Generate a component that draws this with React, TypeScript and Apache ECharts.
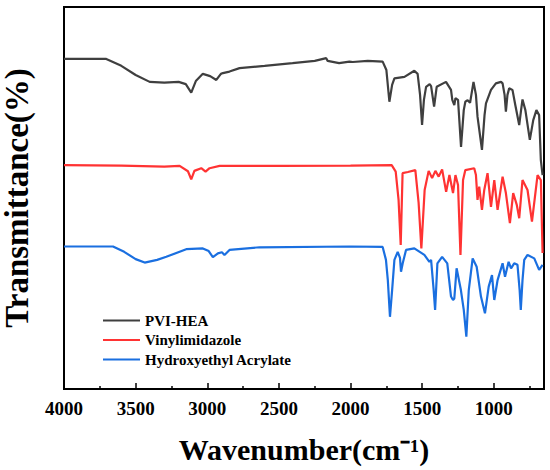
import React, { useEffect, useRef } from "react";
import * as echarts from "echarts";

// Wavenumbers (cm-1) and transmittance (offset, arbitrary units)
const pviWavenumber = [4000, 3705, 3600, 3500, 3402, 3300, 3200, 3150, 3112, 3080, 3031, 2980, 2937, 2905, 2891, 2845, 2775, 2600, 2405, 2250, 2170, 2160, 2080, 2008, 1985, 1880, 1776, 1750, 1729, 1710, 1694, 1624, 1555, 1532, 1515, 1501, 1488, 1473, 1448, 1438, 1417, 1399, 1334, 1299, 1290, 1276, 1268, 1250, 1229, 1210, 1199, 1183, 1166, 1142, 1125, 1114, 1083, 1065, 1055, 1020, 986, 950, 939, 925, 916, 905, 893, 870, 850, 823, 810, 800, 780, 749, 725, 703, 684, 672, 660];
const pviT = [86.4, 86.4, 84.6, 82.2, 80.4, 80.2, 80.4, 79.8, 77.6, 80.6, 82.5, 81.9, 80.9, 82.5, 82.7, 83.1, 84.0, 84.6, 85.3, 85.9, 86.6, 85.9, 85.3, 85.7, 85.6, 85.9, 85.7, 83.5, 75.2, 79.6, 81.3, 81.7, 83.3, 82.5, 77.0, 69.1, 75.7, 79.1, 79.8, 79.3, 73.9, 79.1, 80.4, 78.3, 75.7, 74.3, 76.1, 75.7, 63.4, 73.0, 75.2, 75.6, 74.9, 80.4, 77.0, 71.3, 62.6, 71.7, 74.8, 78.3, 80.0, 80.4, 80.0, 77.0, 72.6, 77.0, 78.7, 78.3, 74.3, 69.1, 73.0, 75.8, 73.0, 65.2, 70.4, 73.0, 71.7, 59.9, 56.0];

const viWavenumber = [4000, 3600, 3300, 3193, 3135, 3112, 3090, 3077, 3042, 3012, 2984, 2914, 2500, 2000, 1713, 1685, 1665, 1650, 1637, 1600, 1548, 1525, 1506, 1483, 1455, 1431, 1408, 1385, 1361, 1333, 1310, 1285, 1268, 1250, 1233, 1215, 1199, 1137, 1125, 1114, 1102, 1083, 1067, 1044, 1020, 997, 974, 939, 916, 888, 865, 840, 823, 800, 765, 734, 695, 672, 660];
const viT = [58.6, 58.5, 58.2, 58.4, 57.0, 54.9, 57.1, 57.3, 57.8, 56.9, 57.8, 58.4, 58.4, 58.5, 58.6, 56.9, 49.5, 37.7, 56.5, 56.8, 57.3, 48.7, 36.8, 52.1, 57.1, 55.2, 57.1, 55.6, 57.5, 51.6, 56.0, 51.3, 56.0, 53.4, 35.1, 54.7, 57.3, 57.8, 56.0, 49.5, 53.0, 46.9, 52.1, 56.5, 47.7, 54.7, 46.9, 55.6, 51.3, 43.4, 51.3, 48.2, 44.7, 54.7, 52.1, 43.8, 56.0, 54.7, 35.6];

const heaWavenumber = [4000, 3658, 3580, 3500, 3437, 3350, 3286, 3147, 3031, 2990, 2961, 2926, 2898, 2880, 2845, 2636, 2008, 1776, 1753, 1740, 1725, 1710, 1694, 1671, 1655, 1648, 1636, 1613, 1555, 1485, 1450, 1438, 1420, 1410, 1394, 1361, 1325, 1299, 1285, 1276, 1260, 1230, 1210, 1192, 1175, 1148, 1120, 1090, 1062, 1036, 1013, 997, 974, 939, 922, 897, 880, 858, 835, 820, 812, 800, 788, 765, 718, 684, 660];
const heaT = [37.3, 37.3, 35.9, 34.0, 33.1, 33.8, 34.6, 36.6, 36.8, 36.1, 34.5, 35.5, 35.8, 35.1, 36.4, 37.1, 37.3, 37.2, 33.8, 28.5, 18.9, 25.9, 33.8, 35.9, 34.3, 30.7, 32.9, 36.4, 36.8, 35.1, 33.3, 33.8, 25.9, 20.7, 32.9, 34.6, 32.9, 24.2, 23.3, 23.7, 31.6, 25.9, 20.7, 13.7, 25.9, 34.2, 32.0, 24.2, 19.8, 26.8, 29.8, 23.3, 28.5, 32.9, 29.4, 33.3, 31.6, 32.9, 32.5, 25.9, 20.7, 28.5, 33.8, 35.1, 34.2, 31.2, 32.5];

const seriesNames = ["PVI-HEA", "Vinylimidazole", "Hydroxyethyl Acrylate"];
const seriesColors = ["#3f3f3f", "#ff3333", "#1a6fe0"];
const majorTicks = [1000, 1500, 2000, 2500, 3000, 3500, 4000];
const minorTicks = [750, 1250, 1750, 2250, 2750, 3250, 3750];

const FONT = "Liberation Serif";

function pairs(xs: number[], ys: number[]) {
  return xs.map((x, i) => [x, ys[i]]);
}

export default function App() {
  const ref = useRef<HTMLDivElement>(null);
  useEffect(() => {
    if (!ref.current) return;
    const chart = echarts.init(ref.current, undefined, { renderer: "svg" });
    const data = [pairs(pviWavenumber, pviT), pairs(viWavenumber, viT), pairs(heaWavenumber, heaT)];
    chart.setOption({
      animation: false,
      backgroundColor: "#fff",
      textStyle: { fontFamily: FONT },
      grid: {
        left: 64,
        right: 6,
        top: 7,
        bottom: 81,
        containLabel: false,
        outerBoundsMode: "none",
        show: true,
        borderColor: "#000",
        borderWidth: 2,
        backgroundColor: "transparent",
      },
      legend: {
        orient: "vertical",
        left: 98,
        top: 308,
        itemWidth: 37,
        itemHeight: 2,
        itemGap: 4.5,
        icon: "rect",
        data: seriesNames,
        textStyle: { fontFamily: FONT, fontWeight: "bold", fontSize: 15, color: "#000" },
      },
      xAxis: [
        {
          type: "value",
          min: 650,
          max: 4000,
          inverse: true,
          name: "Wavenumber(cm\u207B\u00B9)",
          nameLocation: "middle",
          nameGap: 45,
          nameTextStyle: { fontFamily: FONT, fontWeight: "bold", fontSize: 30, color: "#000" },
          axisLine: { show: true, lineStyle: { color: "#000", width: 2 } },
          axisTick: { show: true, inside: true, length: 6, lineStyle: { color: "#000", width: 1.5 }, customValues: majorTicks },
          axisLabel: {
            show: true,
            customValues: majorTicks,
            formatter: (v: number) => "{t|" + v + "}",
            rich: { t: { fontFamily: FONT, fontWeight: "bold", fontSize: 19, color: "#000" } },
            fontFamily: FONT,
            fontWeight: "bold",
            fontSize: 19,
            color: "#000",
            margin: 10,
          },
          splitLine: { show: false },
        },
        {
          type: "value",
          min: 650,
          max: 4000,
          inverse: true,
          position: "bottom",
          axisLine: { show: false },
          axisTick: { show: true, inside: true, length: 3, lineStyle: { color: "#000", width: 1.5 }, customValues: minorTicks },
          axisLabel: { show: false },
          splitLine: { show: false },
        },
      ],
      yAxis: {
        type: "value",
        min: 0,
        max: 100,
        name: "Transmittance(%)",
        nameLocation: "middle",
        nameGap: 31,
        nameTextStyle: { fontFamily: FONT, fontWeight: "bold", fontSize: 33, color: "#000" },
        axisLine: { show: false },
        axisTick: { show: false },
        axisLabel: { show: false },
        splitLine: { show: false },
      },
      series: data.map((d, i) => ({
        name: seriesNames[i],
        type: "line",
        data: d,
        xAxisIndex: 0,
        showSymbol: false,
        symbol: "none",
        color: seriesColors[i],
        lineStyle: { color: seriesColors[i], width: 2.2 },
        z: 3 - i,
      })),
    });
    return () => chart.dispose();
  }, []);
  return <div ref={ref} style={{ position: "fixed", left: 0, top: 0, width: 550, height: 470 }} />;
}
